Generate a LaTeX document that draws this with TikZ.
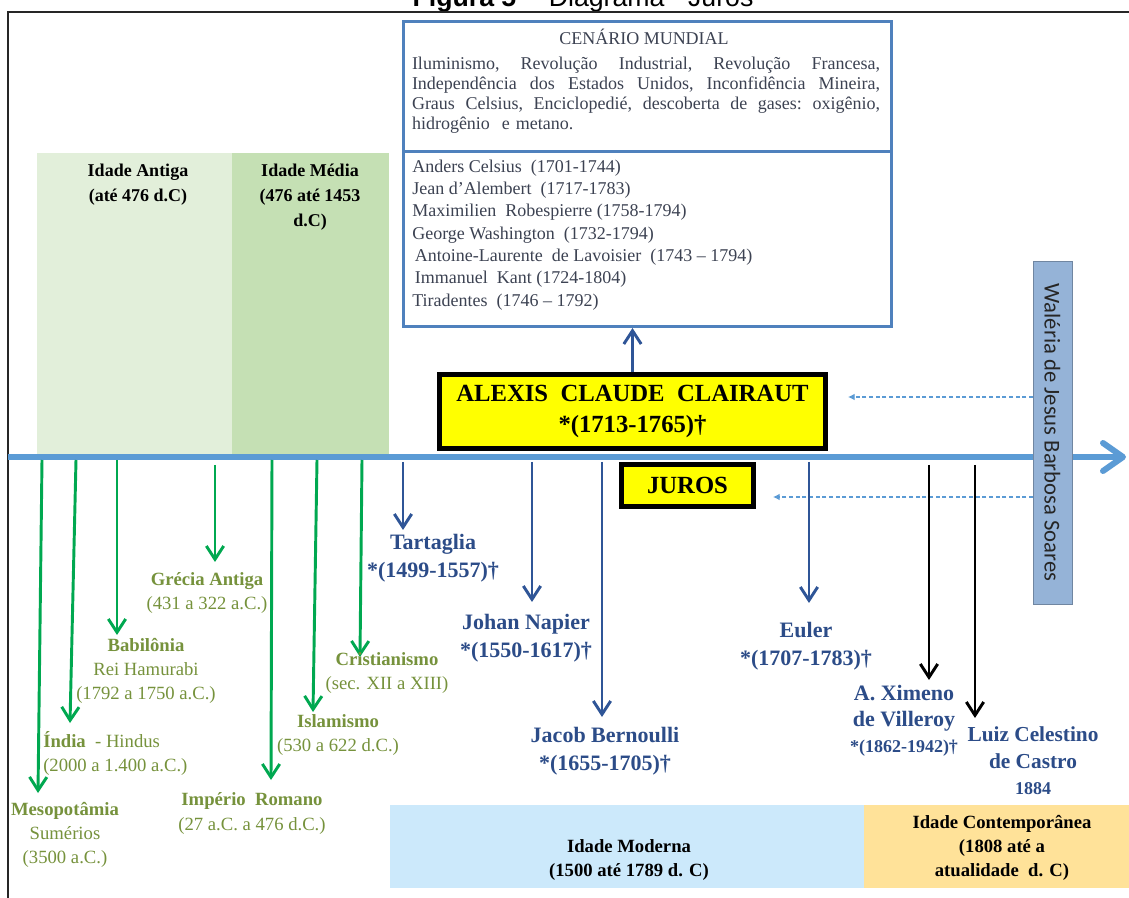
\documentclass[tikz,border=0pt]{standalone}
\usepackage{fontspec}
\setmainfont{Liberation Serif}
\newfontfamily\carlito{Carlito}
\newfontfamily\arialfont{Liberation Sans}
\usetikzlibrary{arrows.meta}

\definecolor{linhaazul}{RGB}{91,155,213}
\definecolor{bordaazul}{RGB}{79,129,189}
\definecolor{textocinza}{RGB}{60,66,82}
\definecolor{setaazul}{RGB}{47,85,151}
\definecolor{nomeazul}{RGB}{44,76,136}
\definecolor{setaverde}{RGB}{0,168,80}
\definecolor{textoverde}{RGB}{118,146,60}
\definecolor{antiga}{RGB}{226,239,218}
\definecolor{media}{RGB}{197,224,180}
\definecolor{moderna}{RGB}{204,233,251}
\definecolor{contemp}{RGB}{255,226,153}
\definecolor{autora}{RGB}{149,179,215}
\definecolor{amarelo}{RGB}{255,255,0}

\newcommand{\tam}[2]{\fontsize{#1}{#2}\selectfont}
\newcommand{\linhacheia}[1]{\leavevmode\hbox to 351pt{#1}}

\begin{document}
\begin{tikzpicture}[x=0.75pt, y=-0.75pt,
		seta verde/.style={draw=setaverde, line width=2.2pt, -{Straight Barb[length=10pt,width=13pt]}},
		seta azul/.style={draw=setaazul, line width=2.2pt, -{Straight Barb[length=10pt,width=13pt]}},
		seta preta/.style={draw=black, line width=2.2pt, -{Straight Barb[length=10pt,width=13pt]}},
		seta tracejada/.style={draw=linhaazul, line width=0.8pt, dash pattern=on 3pt off 2pt, -{Latex[length=5pt,width=5pt]}},
		rotulo verde/.style={text=textoverde, align=center, inner sep=0pt, font=\tam{14}{18}},
		rotulo azul/.style={text=nomeazul, align=center, inner sep=0pt, font=\bfseries\tam{16.5}{21}},
		rotulo era/.style={align=center, inner sep=0pt, font=\bfseries\tam{14}{18}},
		caixa amarela/.style={draw=black, line width=3.75pt, fill=amarelo, align=center, inner sep=0pt, font=\bfseries\tam{18.5}{23}},
		texto cenario/.style={text=textocinza, inner sep=0pt, font=\tam{13.5}{15}},
	]
		\clip (0,0) rectangle (1129,898);
		\fill[white] (0,0) rectangle (1129,898);
		\node[anchor=base, inner sep=0pt, font=\arialfont\tam{20}{24}] (titulo) at (583,7) {\textbf{Figura 5} -- Diagrama - Juros};
		\draw[line width=1.5pt, black!85] (8,898) -- (8,12) -- (1129,12);
		
		% idades
		\fill[antiga] (37,153) rectangle (232,455);
		\fill[media] (232,153) rectangle (389,455);
		\node[rotulo era, font=\bfseries\tam{13.5}{18.75}] (antiga) at (138,184.5) {Idade Antiga\\(até 476 d.C)};
		\node[rotulo era, font=\bfseries\tam{13.5}{18.75}] (media) at (310,197) {Idade Média\\(476 até 1453\\d.C)};
		\fill[moderna] (390,805) rectangle (864,888);
		\fill[contemp] (864,805) rectangle (1129,888);
		\node[rotulo era] (moderna) at (629,860) {Idade Moderna\\(1500 até 1789 d. C)};
		\node[rotulo era] (contemporanea) at (1002,848) {Idade Contemporânea\\(1808 até a\\atualidade\ \ d. C)};
		
		% eixo
		\draw[linhaazul, line width=4.5pt, -{Straight Barb[length=15pt,width=21pt,round]}] (8,457) -- (1126,457);
		
		% cenario mundial
		\node[draw=bordaazul, line width=2.25pt, minimum width=366pt, minimum height=228.75pt, inner sep=0pt] (cenario) at (647.5,174) {};
		\draw[bordaazul, line width=2.25pt] (cenario.west |- 0,152) -- (cenario.east |- 0,152);
		\node[texto cenario] (cenariotitulo) at (644,37) {CENÁRIO MUNDIAL};
		\node[texto cenario, text width=351pt, align=left] (cenariotexto) at (646,95) {%
			\linhacheia{Iluminismo,\hfill Revolução\hfill Industrial,\hfill Revolução\hfill Francesa,}\\
			\linhacheia{Independência\hfill dos\hfill Estados\hfill Unidos,\hfill Inconfidência\hfill Mineira,}\\
			\linhacheia{Graus\hfill Celsius,\hfill Enciclopedié,\hfill descoberta\hfill de\hfill gases:\hfill oxigênio,}\\
			hidrogênio \ e metano.};
		\node[texto cenario, anchor=west, align=left, font=\tam{13.5}{16.75}] (pessoas) at (412,235) {%
			Anders Celsius \ (1701-1744)\\
			Jean d'Alembert \ (1717-1783)\\
			Maximilien \ Robespierre (1758-1794)\\
			George Washington \ (1732-1794)\\
			\hspace{2pt}Antoine-Laurente \ de Lavoisier \ (1743 – 1794)\\
			\hspace{2pt}Immanuel \ Kant (1724-1804)\\
			Tiradentes \ (1746 – 1792)};
		
		% clairaut e juros
		\node[caixa amarela, minimum width=289.5pt, minimum height=55.5pt] (alexis) at (632.5,411.5) {ALEXIS\ \ CLAUDE\ \ CLAIRAUT\\*(1713-1765)†};
		\node[caixa amarela, minimum width=99pt, minimum height=31.5pt] (juros) at (687.5,485.5) {JUROS};
		\draw[seta azul] (alexis.north) -- (alexis.north |- cenario.south);
		
		% autora
		\node[draw=autora!75!black, fill=autora, rotate=-90, minimum width=257pt, minimum height=29pt, inner sep=0pt, font=\carlito\tam{17}{20}, text=black!85] (waleria) at (1052.5,432.5) {Waléria de Jesus Barbosa Soares};
		\draw[seta tracejada] (1033,397) -- (848,397);
		\draw[seta tracejada] (1033,497) -- (773,497);
		
		% antiguidade
		\draw[seta verde] (42,460) -- (38,793);
		\draw[seta verde] (76,460) -- (70,723);
		\draw[seta verde] (117,460) -- (117,635);
		\draw[seta verde] (215,465) -- (215,562);
		\draw[seta verde] (272,460) -- (271,780);
		\draw[seta verde] (317,460) -- (313,712);
		\draw[seta verde] (362,460) -- (360,657);
		\node[rotulo verde] (meso) at (65,835) {\textbf{Mesopotâmia}\\Sumérios\\(3500 a.C.)};
		\node[rotulo verde, align=left, anchor=west] (india) at (43,753.5) {\textbf{Índia} \ - Hindus\\(2000 a 1.400 a.C.)};
		\node[rotulo verde] (babilonia) at (146,671) {\textbf{Babilônia}\\Rei Hamurabi\\(1792 a 1750 a.C.)};
		\node[rotulo verde] (grecia) at (207,593.5) {\textbf{Grécia Antiga}\\(431 a 322 a.C.)};
		\node[rotulo verde] (imperio) at (252,813.5) {\textbf{Império\ \ Romano}\\(27 a.C. a 476 d.C.)};
		\node[rotulo verde] (islamismo) at (338,735) {\textbf{Islamismo}\\(530 a 622 d.C.)};
		\node[rotulo verde] (cristianismo) at (387,673) {\textbf{Cristianismo}\\(sec. XII a XIII)};
		
		% matematicos
		\draw[seta azul] (403,462) -- (403,530);
		\draw[seta azul] (532,462) -- (532,602);
		\draw[seta azul] (602,462) -- (602,717);
		\draw[seta azul] (809,462) -- (809,603);
		\draw[seta preta] (929,465) -- (929,680);
		\draw[seta preta] (975,465) -- (975,718);
		\node[rotulo azul] (tartaglia) at (433,558.5) {Tartaglia\\*(1499-1557)†};
		\node[rotulo azul] (napier) at (526,638) {Johan Napier\\*(1550-1617)†};
		\node[rotulo azul] (bernoulli) at (605,751) {Jacob Bernoulli\\*(1655-1705)†};
		\node[rotulo azul] (euler) at (806,646) {Euler\\*(1707-1783)†};
		\node[rotulo azul, font=\bfseries\tam{16.5}{19.5}] (ximeno) at (904,721) {A. Ximeno\\de Villeroy\\{\tam{13.5}{19}*(1862-1942)†}};
		\node[rotulo azul, font=\bfseries\tam{16}{20}] (luiz) at (1033,761) {Luiz Celestino\\de Castro\\{\tam{13.5}{19}1884}};
	\end{tikzpicture}
\end{document}
